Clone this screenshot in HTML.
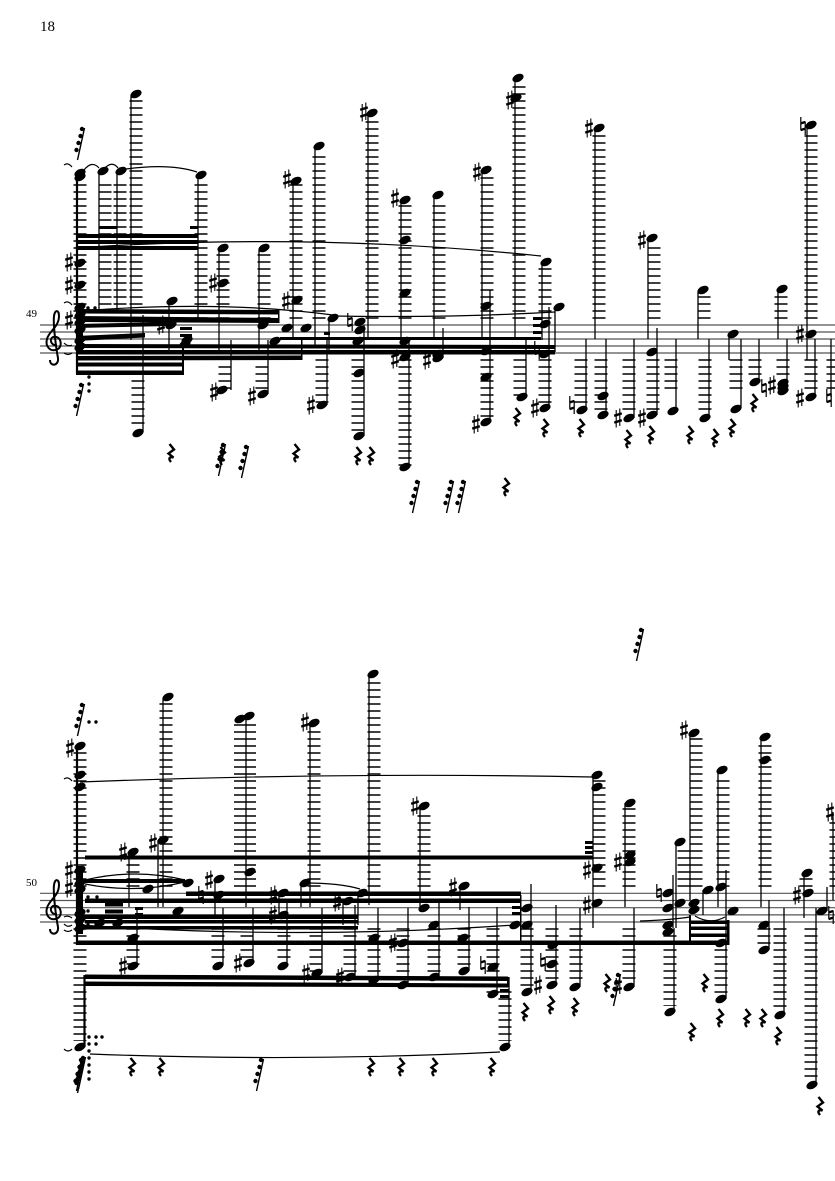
<!DOCTYPE html>
<html><head><meta charset="utf-8"><style>
html,body{margin:0;padding:0;background:#fff}
svg{display:block}
text{font-family:"Liberation Serif",serif;fill:#000}
</style></head><body>
<svg xmlns="http://www.w3.org/2000/svg" width="835" height="1181" viewBox="0 0 835 1181">
<defs>
<ellipse id="n" rx="5.9" ry="3.8" transform="rotate(-25)"/>
<g id="s" stroke="#000" fill="none"><path d="M-1.8-8V9.5M1.8-9.5V8" stroke-width="1.1"/><path d="M-3.8-2.2L3.8-4.6M-3.8 4.6L3.8 2.2" stroke-width="2.4"/></g>
<g id="h" stroke="#000" fill="none"><path d="M-2.2-9V4.5M2.2-4.5V9" stroke-width="1.2"/><path d="M-2.2-2.6L2.2-4M-2.2 4L2.2 2.6" stroke-width="2.3"/></g>
<path id="r" d="M-1.5-9L3-3.5L-2.5 .5L2.5 4.5C-1.500 3.500-3 5.500 0 9" fill="none" stroke="#000" stroke-width="2.4"/>
<g id="g"><path d="M3.5-16L-3.5 16" stroke="#000" stroke-width="1.4"/><circle cx="1" cy="-15" r="2.200"/><circle cx="-.5" cy="-8" r="2.200"/><circle cx="-2.5" cy="-1" r="2.200"/><circle cx="-4.5" cy="6" r="2.200"/></g>
<path id="c" d="M57 345C51 346 49 339 53 337C61 335 63 346 58 349C50 353 45 346 47 339C49 331 59 327 59 316C59 310 55 309 54 316C53 324 56 348 58 358C59 366 50 367 50 360" fill="none" stroke="#000" stroke-width="2"/>
</defs>

<text x="40" y="31" font-size="15">18</text>
<text x="26" y="317" font-size="11">49</text>
<text x="26" y="886" font-size="11">50</text>

<!-- staff lines -->
<path d="M40 325H835M40 332H835M40 339H835M40 346H835M40 353H835M40 893.3H835M40 900.5H835M40 907.7H835M40 914.9H835M40 922H835" stroke="#555" stroke-width="1.2" fill="none"/>

<use href="#c"/><use href="#c" y="569"/>

<!-- ledgers -->
<g stroke="#000" fill="none" stroke-width="13" stroke-dasharray="1.5 5.5">
<path d="M80 184.300V319M105 184.300V319M120 184.300V319M136 100.300V319M201 184.300V319M223 254.300V319M264 254.300V319M296 184.300V319M319 156.300V319M372 121.300V319M405 205.300V319M439 205.300V319M487 177.300V319M519 86.300V319M545 268.300V319M599 135.300V319M654 247.300V319M704 296.300V319M781 296.300V319M811 135.300V319"/>
<path d="M138 380.300V425M225 366.300V389M262 366.300V389M322 359.300V403M358 359.300V431M405 359.300V466M487 359.300V417M520 359.300V396M545 359.300V403M581 359.300V403M601 359.300V410M629 359.300V410M653 359.300V410M671 359.300V389M705 359.300V410M736 359.300V389M755 359.300V375M783 359.300V375M811 359.300V389M833 359.300V389"/>
<path d="M80 752.300V887M133 857.300V887M166 703.300V887M314 731.300V887M374 682.300V887M424 815.300V887M599 780.300V887M629 808.300V887M684 850.300V887M696 738.300V887M723 780.300V887M765 745.300V887M806 878.300V887M836 822.300V887"/>
<path d="M80 928.300V1041M133 928.300V965M218 928.300V959M247 928.300V959M284 928.300V959M316 928.300V972M350 928.300V972M374 928.300V976M403 928.300V979M434 928.300V972M464 928.300V965M493 928.300V993M505 991.300V1041M527 928.300V986M552 928.300V979M576 928.300V979M629 928.300V979M670 935.300V1006M721 949.300V993M764 928.300V944M780 928.300V1009M811 928.300V1079"/>
<path d="M245 724.300V887" stroke-width="22"/>
</g>

<!-- stems -->
<path fill="none" stroke="#000" stroke-width="1.3" d="M99 173V310M117 173V310M131 96V340M143 315V432M198 177V320M169 303V350M219 250V350M259 250V350M231 340V390M268 340V394M293 183V340M315 148V345M327 338V405M329 318V350M364 325V436M368 115V340M409 340V467M401 202V340M434 197V340M443 328V358M482 172V340M490 290V422M515 80V340M526 340V397M542 264V340M549 307V408M555 310V352M595 130V339M586 339V410M606 339V415M634 339V418M657 328V415M648 240V339M676 339V411M698 292V339M709 339V418M729 336V360M741 339V408M759 339V382M787 339V391M778 291V339M807 127V360M815 339V397M831 339V397
M129 852V907M137 910V967M158 840V907M163 699V907M215 880V918M223 908V965M246 718V907M253 908V963M287 900V965M279 893V915M301 883V907M310 723V907M322 908V973M343 901V925M355 905V977M358 893V925M369 676V905M378 908V980M408 908V985M420 808V910M439 902V977M460 886V910M469 907V971M497 907V994M509 977V1047M531 884V992M556 905V985M580 908V987M593 778V928M625 803V907M634 908V987M673 875V928M674 928V1012M676 842V928M690 733V900M703 890V915M718 770V907M726 870V999M761 739V907M769 900V950M784 908V1015M804 873V918M816 908V1085M827 887V911M833 812V900"/>
<path fill="none" stroke="#000" stroke-width="2.2" d="M77 173V374M77 748V945M84.500 975V1047"/>
<path fill="none" stroke="#000" stroke-width="7" d="M79.500 303V354M79.500 866V934"/>

<!-- beams -->
<g fill="#000">
<rect x="76" y="234" width="122" height="4"/><rect x="76" y="240" width="122" height="4"/><rect x="76" y="246" width="122" height="4"/>
<rect x="99" y="226" width="18" height="3"/><rect x="190" y="226" width="8" height="3"/>
<path d="M76 309L279 310V314.500L76 313.500ZM76 316L279 318V323L76 322ZM76 324L170 322V326L76 328ZM76 336L145 333V337.500L76 341ZM76 344L555 345V349L76 348ZM76 350L555 350V354.500L76 354.500ZM76 356L302 355.500V360L76 360.500ZM76 362.500H183V366.500H76ZM76 370.500H183V375H76ZM280 337V340H541V337Z"/>
<rect x="182" y="340" width="2" height="35"/><rect x="278" y="310" width="1.500" height="13"/><rect x="301" y="339" width="1.500" height="21"/>
<rect x="180" y="327" width="12" height="3"/><rect x="180" y="334" width="12" height="3"/>
<rect x="324" y="332" width="6" height="3"/><rect x="324" y="337" width="6" height="3"/>
<rect x="533" y="317" width="9" height="3"/><rect x="533" y="324" width="9" height="3"/><rect x="533" y="331" width="9" height="3"/>
<rect x="85" y="855.500" width="508" height="4"/>
<path d="M85 879H185V883H85ZM186 891.500H521V896H186ZM85 898.500H521V903H85ZM76 914.500H358V919H76ZM85 920H358V923.500H85ZM76 926H358V929.500H76ZM76 940.500H729V945H76ZM85 974.500L508 976.500V981L85 979ZM85 981.500L508 983.500V987.500L85 986Z"/>
<rect x="105" y="902.500" width="18" height="4"/><rect x="105" y="909.500" width="18" height="4"/>
<rect x="135" y="907" width="8" height="3"/><rect x="135" y="913" width="8" height="3"/>
<rect x="512" y="906" width="8" height="3"/><rect x="512" y="912" width="8" height="3"/>
<rect x="500" y="989" width="9" height="3"/><rect x="500" y="995" width="9" height="3"/>
<rect x="585" y="841" width="8" height="3"/><rect x="585" y="846" width="8" height="3"/><rect x="585" y="851" width="8" height="3"/>
<rect x="690" y="920.500" width="39" height="3.500"/><rect x="690" y="926.500" width="39" height="3.500"/><rect x="690" y="933.500" width="39" height="3.500"/>
<rect x="689" y="915" width="2" height="30"/><rect x="727" y="920" width="2.500" height="25"/>
<rect x="520" y="895" width="1.500" height="47"/><rect x="507" y="977" width="1.500" height="10"/>
</g>

<!-- slurs -->
<g fill="none" stroke="#000" stroke-width="1.2">
<path d="M75 248Q310 232 541 256M126 169Q170 163 197 172M84 170Q92 160 99 168M104 169Q112 160 118 168M80 311Q220 300 333 315M335 316Q450 318 555 312M64 165Q68 162 72 167M64 303Q68 300 72 305M64 343Q68 347 72 345M64 353Q68 356 72 353"/>
<path d="M80 782Q340 772 592 777M85 880Q135 868 185 880M85 884Q135 894 185 882M305 883Q340 883 360 889M80 925Q300 940 515 925M640 921Q670 920 690 917M695 916Q710 925 725 917M90 1054Q300 1062 500 1052M64 1049Q68 1053 72 1049M64 779Q68 776 72 781M64 917Q68 915 72 918M64 924Q68 928 72 925M64 930Q68 933 72 930"/>
</g>

<!-- dots -->
<g fill="#000">
<circle cx="88" cy="308" r="1.700"/><circle cx="95" cy="308" r="1.700"/><circle cx="89" cy="377" r="1.700"/><circle cx="89" cy="384" r="1.700"/><circle cx="89" cy="391" r="1.700"/>
<circle cx="89" cy="722" r="1.700"/><circle cx="96" cy="722" r="1.700"/><circle cx="88" cy="897" r="1.700"/><circle cx="97" cy="897" r="1.700"/><circle cx="88" cy="911" r="1.700"/><circle cx="88" cy="925" r="1.700"/>
<circle cx="89" cy="1037" r="1.700"/><circle cx="96" cy="1037" r="1.700"/><circle cx="102" cy="1037" r="1.700"/><circle cx="89" cy="1044" r="1.700"/><circle cx="96" cy="1044" r="1.700"/><circle cx="89" cy="1051" r="1.700"/><circle cx="89" cy="1058" r="1.700"/><circle cx="89" cy="1065" r="1.700"/><circle cx="89" cy="1072" r="1.700"/><circle cx="89" cy="1079" r="1.700"/>
</g>

<!-- staff 1 notes -->
<g>
<use href="#n" x="80" y="173"/><use href="#n" x="80" y="177"/><use href="#n" x="103" y="171"/><use href="#n" x="121" y="171"/><use href="#n" x="136" y="94"/><use href="#n" x="138" y="433"/><use href="#n" x="201" y="175"/>
<use href="#n" x="80" y="263"/><use href="#n" x="80" y="285"/><use href="#n" x="80" y="307"/><use href="#n" x="80" y="315"/><use href="#n" x="80" y="322"/><use href="#n" x="80" y="330"/><use href="#n" x="80" y="340"/><use href="#n" x="80" y="347"/>
<use href="#n" x="172" y="301"/><use href="#n" x="171" y="325"/><use href="#n" x="187" y="340"/><use href="#n" x="185" y="344"/><use href="#n" x="223" y="248"/><use href="#n" x="223" y="283"/><use href="#n" x="222" y="390"/><use href="#n" x="264" y="248"/><use href="#n" x="263" y="394"/>
<use href="#n" x="263" y="325"/><use href="#n" x="275" y="341"/><use href="#n" x="287" y="328"/><use href="#n" x="306" y="328"/><use href="#n" x="296" y="181"/><use href="#n" x="297" y="300"/><use href="#n" x="319" y="146"/><use href="#n" x="333" y="318"/><use href="#n" x="322" y="405"/>
<use href="#n" x="360" y="322"/><use href="#n" x="360" y="330"/><use href="#n" x="358" y="341"/><use href="#n" x="359" y="373"/><use href="#n" x="359" y="436"/><use href="#n" x="372" y="113"/><use href="#n" x="405" y="467"/><use href="#n" x="405" y="357"/><use href="#n" x="405" y="341"/><use href="#n" x="405" y="200"/><use href="#n" x="405" y="240"/><use href="#n" x="405" y="293"/><use href="#n" x="438" y="195"/><use href="#n" x="438" y="358"/><use href="#n" x="438" y="354"/>
<use href="#n" x="486" y="170"/><use href="#n" x="486" y="306"/><use href="#n" x="486" y="351"/><use href="#n" x="486" y="377"/><use href="#n" x="486" y="422"/><use href="#n" x="518" y="78"/><use href="#n" x="516" y="98"/><use href="#n" x="522" y="397"/><use href="#n" x="546" y="262"/><use href="#n" x="545" y="324"/><use href="#n" x="545" y="354"/><use href="#n" x="545" y="408"/><use href="#n" x="559" y="307"/>
<use href="#n" x="599" y="128"/><use href="#n" x="582" y="410"/><use href="#n" x="603" y="396"/><use href="#n" x="603" y="415"/><use href="#n" x="629" y="418"/><use href="#n" x="652" y="352"/><use href="#n" x="652" y="415"/><use href="#n" x="652" y="238"/><use href="#n" x="673" y="411"/><use href="#n" x="703" y="290"/><use href="#n" x="705" y="418"/><use href="#n" x="733" y="334"/><use href="#n" x="736" y="409"/><use href="#n" x="755" y="382"/><use href="#n" x="783" y="383"/><use href="#n" x="783" y="387"/><use href="#n" x="783" y="391"/><use href="#n" x="782" y="289"/><use href="#n" x="811" y="125"/><use href="#n" x="811" y="334"/><use href="#n" x="811" y="397"/>
</g>

<!-- staff 1 accidentals, rests, graces -->
<g>
<use href="#s" x="69" y="262"/><use href="#s" x="69" y="285"/><use href="#s" x="69" y="320"/><use href="#s" x="161" y="325"/><use href="#s" x="213" y="283"/><use href="#s" x="214" y="392"/><use href="#s" x="252" y="396"/><use href="#s" x="287" y="179"/><use href="#s" x="286" y="301"/><use href="#s" x="311" y="405"/><use href="#h" x="350" y="322"/><use href="#s" x="395" y="359"/><use href="#s" x="395" y="198"/><use href="#s" x="364" y="112"/><use href="#s" x="427" y="360"/><use href="#s" x="477" y="172"/><use href="#s" x="476" y="424"/><use href="#s" x="510" y="100"/><use href="#h" x="537" y="350"/><use href="#s" x="535" y="408"/><use href="#s" x="589" y="128"/><use href="#h" x="572" y="405"/><use href="#s" x="618" y="418"/><use href="#s" x="642" y="418"/><use href="#s" x="642" y="240"/><use href="#h" x="764" y="388"/><use href="#s" x="772" y="385"/><use href="#h" x="803" y="126"/><use href="#s" x="800" y="334"/><use href="#s" x="800" y="398"/><use href="#h" x="829" y="398"/>
<use href="#r" x="171" y="453"/><use href="#r" x="222" y="456"/><use href="#r" x="296" y="453"/><use href="#r" x="358" y="456"/><use href="#r" x="371" y="456"/><use href="#r" x="506" y="487"/><use href="#r" x="517" y="417"/><use href="#r" x="545" y="428"/><use href="#r" x="581" y="428"/><use href="#r" x="628" y="439"/><use href="#r" x="651" y="435"/><use href="#r" x="690" y="435"/><use href="#r" x="715" y="438"/><use href="#r" x="732" y="428"/><use href="#r" x="754" y="403"/>
<use href="#g" x="81" y="144"/><use href="#g" x="80" y="400"/><use href="#g" x="222" y="460"/><use href="#g" x="245" y="462"/><use href="#g" x="416" y="497"/><use href="#g" x="450" y="497"/><use href="#g" x="462" y="497"/>
</g>

<!-- staff 2 notes -->
<g>
<use href="#n" x="80" y="746"/><use href="#n" x="80" y="775"/><use href="#n" x="80" y="787"/><use href="#n" x="80" y="870"/><use href="#n" x="80" y="883"/><use href="#n" x="80" y="890"/><use href="#n" x="80" y="913"/><use href="#n" x="80" y="920"/><use href="#n" x="80" y="928"/><use href="#n" x="80" y="1047"/>
<use href="#n" x="100" y="923"/><use href="#n" x="118" y="923"/><use href="#n" x="133" y="852"/><use href="#n" x="133" y="938"/><use href="#n" x="133" y="966"/><use href="#n" x="148" y="889"/><use href="#n" x="163" y="840"/><use href="#n" x="168" y="697"/><use href="#n" x="178" y="911"/><use href="#n" x="188" y="883"/>
<use href="#n" x="219" y="879"/><use href="#n" x="219" y="895"/><use href="#n" x="218" y="966"/><use href="#n" x="240" y="719"/><use href="#n" x="249" y="716"/><use href="#n" x="250" y="872"/><use href="#n" x="249" y="963"/><use href="#n" x="283" y="893"/><use href="#n" x="283" y="915"/><use href="#n" x="283" y="966"/>
<use href="#n" x="305" y="883"/><use href="#n" x="314" y="723"/><use href="#n" x="317" y="973"/><use href="#n" x="348" y="901"/><use href="#n" x="350" y="977"/><use href="#n" x="362" y="893"/><use href="#n" x="373" y="674"/><use href="#n" x="374" y="938"/><use href="#n" x="374" y="980"/><use href="#n" x="403" y="943"/><use href="#n" x="403" y="985"/><use href="#n" x="424" y="806"/><use href="#n" x="424" y="908"/><use href="#n" x="434" y="925"/><use href="#n" x="434" y="977"/><use href="#n" x="464" y="886"/><use href="#n" x="463" y="938"/><use href="#n" x="464" y="971"/>
<use href="#n" x="493" y="967"/><use href="#n" x="493" y="994"/><use href="#n" x="505" y="1047"/><use href="#n" x="527" y="908"/><use href="#n" x="515" y="925"/><use href="#n" x="527" y="925"/><use href="#n" x="527" y="992"/><use href="#n" x="553" y="945"/><use href="#n" x="552" y="964"/><use href="#n" x="552" y="985"/><use href="#n" x="575" y="987"/>
<use href="#n" x="597" y="775"/><use href="#n" x="597" y="787"/><use href="#n" x="597" y="868"/><use href="#n" x="597" y="903"/><use href="#n" x="630" y="803"/><use href="#n" x="630" y="855"/><use href="#n" x="630" y="862"/><use href="#n" x="629" y="987"/>
<use href="#n" x="668" y="893"/><use href="#n" x="668" y="908"/><use href="#n" x="680" y="903"/><use href="#n" x="668" y="925"/><use href="#n" x="668" y="932"/><use href="#n" x="670" y="1012"/><use href="#n" x="680" y="842"/><use href="#n" x="694" y="733"/><use href="#n" x="694" y="903"/><use href="#n" x="694" y="910"/><use href="#n" x="708" y="890"/><use href="#n" x="721" y="887"/><use href="#n" x="722" y="770"/><use href="#n" x="721" y="943"/><use href="#n" x="721" y="999"/><use href="#n" x="733" y="911"/>
<use href="#n" x="765" y="737"/><use href="#n" x="765" y="760"/><use href="#n" x="764" y="925"/><use href="#n" x="764" y="950"/><use href="#n" x="780" y="1015"/><use href="#n" x="807" y="873"/><use href="#n" x="808" y="893"/><use href="#n" x="822" y="911"/><use href="#n" x="812" y="1085"/>
</g>

<!-- staff 2 accidentals, rests, graces -->
<g>
<use href="#s" x="70" y="748"/><use href="#s" x="69" y="870"/><use href="#s" x="69" y="888"/><use href="#s" x="123" y="852"/><use href="#s" x="123" y="966"/><use href="#s" x="153" y="843"/><use href="#s" x="209" y="880"/><use href="#h" x="201" y="895"/><use href="#s" x="238" y="963"/><use href="#s" x="273" y="895"/><use href="#s" x="273" y="915"/><use href="#s" x="305" y="722"/><use href="#s" x="306" y="973"/><use href="#s" x="337" y="902"/><use href="#s" x="340" y="977"/><use href="#s" x="393" y="943"/><use href="#s" x="415" y="806"/><use href="#s" x="453" y="887"/><use href="#h" x="483" y="965"/><use href="#h" x="543" y="962"/><use href="#s" x="538" y="985"/><use href="#s" x="587" y="870"/><use href="#s" x="587" y="905"/><use href="#s" x="618" y="862"/><use href="#h" x="659" y="893"/><use href="#s" x="684" y="730"/><use href="#s" x="797" y="895"/><use href="#h" x="831" y="915"/><use href="#s" x="830" y="812"/>
<use href="#r" x="132" y="1067"/><use href="#r" x="161" y="1067"/><use href="#r" x="371" y="1067"/><use href="#r" x="401" y="1067"/><use href="#r" x="434" y="1067"/><use href="#r" x="492" y="1067"/><use href="#r" x="525" y="1012"/><use href="#r" x="551" y="1005"/><use href="#r" x="575" y="1007"/><use href="#r" x="607" y="983"/><use href="#r" x="692" y="1032"/><use href="#r" x="705" y="983"/><use href="#r" x="720" y="1018"/><use href="#r" x="747" y="1018"/><use href="#r" x="763" y="1018"/><use href="#r" x="778" y="1036"/><use href="#r" x="820" y="1106"/>
<use href="#s" x="618" y="986"/>
<use href="#g" x="81" y="720"/><use href="#g" x="640" y="645"/><use href="#g" x="617" y="990"/><use href="#g" x="260" y="1075"/><use href="#g" x="80" y="1075"/><use href="#g" x="81" y="1077"/><use href="#g" x="82" y="1073"/>
</g>
</svg>
</body></html>
